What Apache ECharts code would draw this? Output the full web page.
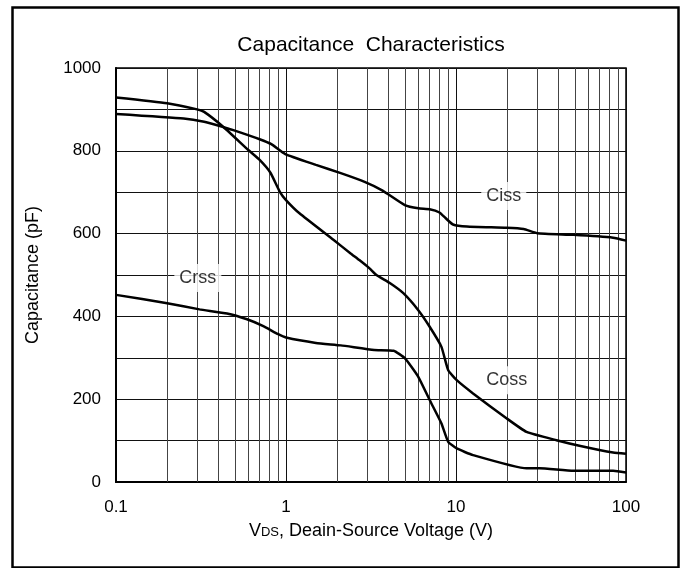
<!DOCTYPE html>
<html>
<head>
<meta charset="utf-8">
<script src="https://cdn.jsdelivr.net/npm/echarts@6/dist/echarts.min.js"></script>
<style>
html,body{margin:0;padding:0;background:#fff;}
#chart{width:684px;height:568px;}
</style>
</head>
<body>
<div id="chart"></div>
<script>
// ---- data ----
var xTicks = [0.1, 1, 10, 100];
var yTickLabels = [0, 200, 400, 600, 800, 1000];
var minorGridX = [0.2,0.3,0.4,0.5,0.6,0.7,0.8,0.9,2,3,4,5,6,7,8,9,20,30,40,50,60,70,80,90];

var cissX = [0.1, 0.25, 0.33, 0.43, 0.49, 0.7, 0.82, 0.99, 1.5, 2.1, 2.9, 3.7, 5.0, 6.0, 7.0, 8.0, 8.7, 9.6, 11.6, 19.8, 25, 30, 49, 84, 100];
var cissY = [889, 878, 870, 857, 850, 828, 816, 792, 766, 746, 725, 704, 669, 661, 659, 651, 637, 622, 617, 614, 611, 601, 597, 590, 583];

var cossX = [0.1, 0.2, 0.3, 0.33, 0.43, 0.6, 0.7, 0.81, 0.92, 1.0, 1.2, 1.9, 2.4, 2.7, 3.1, 3.4, 4.1, 4.9, 6.0, 7.0, 8.2, 9.0, 10.1, 12.6, 19.8, 26, 39, 54, 84, 100];
var cossY = [929, 915, 900, 894, 857, 802, 778, 747, 701, 681, 649, 585, 552, 536, 516, 500, 480, 456, 415, 375, 327, 270, 246, 214, 154, 121, 101, 87, 71, 68];

var crssX = [0.1, 0.2, 0.31, 0.45, 0.59, 0.73, 0.9, 1.0, 1.5, 2.1, 3.3, 4.3, 5.0, 6.0, 7.0, 8.2, 9.0, 10.1, 12.6, 26, 31, 49, 84, 100];
var crssY = [452, 432, 417, 407, 393, 377, 357, 349, 336, 330, 319, 317, 299, 254, 198, 142, 97, 81, 65, 33, 33, 27, 27, 23];

var curveLabels = ['Ciss', 'Coss', 'Crss'];
var curveLabelX = [19.1, 19.9, 0.303];
var curveLabelY = [691, 246, 493];

// ---- build ----
function pairs(xs, ys){ return xs.map(function(x,i){ return [x, ys[i]]; }); }
var FONT = '"Liberation Sans", Arial, sans-serif';
var chart = echarts.init(document.getElementById('chart'), null, {renderer:'canvas'});

function curve(name, xs, ys, extra){
  var s = {
    name: name, type: 'line', data: pairs(xs, ys),
    showSymbol: false, smooth: 0.15, z: 5,
    lineStyle: {color: '#000', width: 2.5},
    silent: true
  };
  if (extra) for (var k in extra) s[k] = extra[k];
  return s;
}

var option = {
  backgroundColor: '#fff',
  animation: false,
  title: {
    text: 'Capacitance  Characteristics',
    left: 371, top: 35, textAlign: 'center', padding: 0,
    textStyle: {fontFamily: FONT, fontSize: 21, fontWeight: 'normal', color: '#000'}
  },
  graphic: [{
    type: 'rect', left: 10, top: 5, z: 100, silent: true,
    shape: {width: 666, height: 560},
    style: {fill: 'none', stroke: '#000', lineWidth: 2.5}
  }],
  grid: {left: 116, top: 68, width: 510, height: 414, show: true, borderColor: '#000', borderWidth: 1.5, backgroundColor: 'transparent'},
  xAxis: {
    type: 'log', logBase: 10, min: 0.1, max: 100,
    name: '{a|V}{b|DS}{a|, Deain-Source Voltage (V)}',
    nameLocation: 'middle', nameGap: 40,
    nameTextStyle: {
      rich: {
        a: {fontFamily: FONT, fontSize: 18, color: '#000', verticalAlign: 'bottom'},
        b: {fontFamily: FONT, fontSize: 13, color: '#000', verticalAlign: 'bottom', padding: [0,0,1,0]}
      }
    },
    axisLine: {show: true, lineStyle: {color: '#000', width: 2}},
    axisTick: {show: false},
    axisLabel: {
      margin: 17, fontFamily: FONT, fontSize: 17, color: '#000',
      formatter: function(v){ var s = xTicks.filter(function(t){ return Math.abs(t - v) / t < 1e-6; }); return s.length ? String(s[0]) : ''; }
    },
    splitLine: {show: true, lineStyle: {color: '#111', width: 1}}
  },
  yAxis: {
    type: 'value', min: 0, max: 1000, interval: 100,
    name: 'Capacitance (pF)', nameLocation: 'middle', nameGap: 74,
    nameTextStyle: {fontFamily: FONT, fontSize: 18, color: '#000'},
    axisLine: {show: true, lineStyle: {color: '#000', width: 2}},
    axisTick: {show: false},
    axisLabel: {
      margin: 15, fontFamily: FONT, fontSize: 17, color: '#000',
      formatter: function(v){ return yTickLabels.indexOf(v) >= 0 ? String(v) : ''; }
    },
    splitLine: {show: true, lineStyle: {color: '#111', width: 1}}
  },
  series: [
    curve('Ciss', cissX, cissY, {
      markLine: {
        silent: true, symbol: 'none', animation: false, z: 1,
        label: {show: false},
        lineStyle: {color: '#444', width: 1, type: 'solid'},
        emphasis: {disabled: true},
        data: minorGridX.map(function(v){ return {xAxis: v}; })
      }
    }),
    curve('Coss', cossX, cossY),
    curve('Crss', crssX, crssY),
    {
      type: 'scatter', z: 4, silent: true, symbolSize: 0,
      data: curveLabels.map(function(n, i){ return {name: n, value: [curveLabelX[i], curveLabelY[i]]}; }),
      label: {
        show: true, position: 'inside', formatter: '{b}',
        fontFamily: FONT, fontSize: 18, color: '#000',
        backgroundColor: '#fff', padding: [5, 5]
      }
    }
  ]
};
chart.setOption(option);
</script>
</body>
</html>
